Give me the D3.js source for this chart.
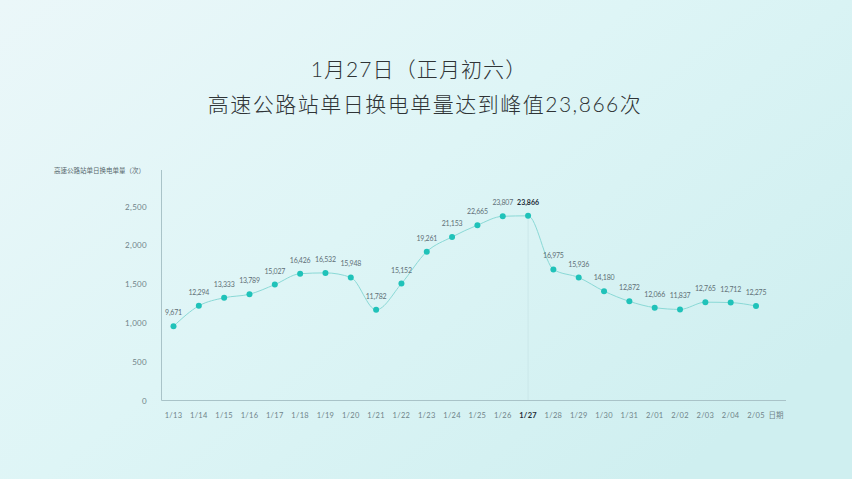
<!DOCTYPE html>
<html lang="zh">
  <head>
    <meta charset="utf-8">
    <script src="https://d3js.org/d3.v7.min.js" charset="utf-8"></script>
    <style type="text/css">
      html, body {
        margin: 0;
        padding: 0;
      }
      body {
        width: 852px;
        height: 479px;
        overflow: hidden;
        font-family: "Lato", "Noto Sans CJK SC", "Noto Sans", sans-serif;
      }
    </style>
  </head>
  <body>
    <script>
      var width = 852;
      var height = 479;

      // data
      var dates = ["1/13","1/14","1/15","1/16","1/17","1/18","1/19","1/20","1/21","1/22","1/23","1/24",
                   "1/25","1/26","1/27","1/28","1/29","1/30","1/31","2/01","2/02","2/03","2/04","2/05"];
      var swaps = [9671,12294,13333,13789,15027,16426,16532,15948,11782,15152,19261,21153,
                   22665,23807,23866,16975,15936,14180,12872,12066,11837,12765,12712,12275];
      var yTicks = [0, 5000, 10000, 15000, 20000, 25000];
      var yTickLabels = ["0", "500", "1,000", "1,500", "2,000", "2,500"];
      var peakDate = "1/27";

      var svg = d3.select("body")
        .append("svg")
        .attr("width", width)
        .attr("height", height);

      // background gradient
      var defs = svg.append("defs");
      var grad = defs.append("linearGradient")
        .attr("id", "bg")
        .attr("x1", "0").attr("y1", "0")
        .attr("x2", "1").attr("y2", "0.7");
      grad.append("stop").attr("offset", "0%").attr("stop-color", "#ebf7f9");
      grad.append("stop").attr("offset", "50%").attr("stop-color", "#def5f6");
      grad.append("stop").attr("offset", "100%").attr("stop-color", "#cfeff0");

      svg.append("rect")
        .attr("width", width)
        .attr("height", height)
        .attr("fill", "url(#bg)");

      // titles
      svg.append("text")
        .attr("x", 419)
        .attr("y", 77)
        .attr("text-anchor", "middle")
        .attr("font-size", 21)
        .attr("font-weight", 300)
        .attr("letter-spacing", 1.1)
        .attr("fill", "#2f3436")
        .text("1月27日（正月初六）");

      svg.append("text")
        .attr("x", 425)
        .attr("y", 112)
        .attr("text-anchor", "middle")
        .attr("font-size", 21)
        .attr("font-weight", 300)
        .attr("letter-spacing", 1.5)
        .attr("fill", "#2f3436")
        .text("高速公路站单日换电单量达到峰值23,866次");

      // scales
      var x = d3.scalePoint()
        .domain(dates)
        .range([173.5, 756]);

      var y = d3.scaleLinear()
        .domain([0, 25000])
        .range([401.5, 207]);

      var g = svg.append("g");

      // axis lines
      g.append("line")
        .attr("x1", 161.5).attr("x2", 161.5)
        .attr("y1", 170).attr("y2", 400.5)
        .attr("stroke", "#a9c3c8")
        .attr("stroke-width", 1);

      g.append("line")
        .attr("x1", 161.5).attr("x2", 786)
        .attr("y1", 400.5).attr("y2", 400.5)
        .attr("stroke", "#a9c3c8")
        .attr("stroke-width", 1);

      // y tick labels
      g.selectAll(".ytick")
        .data(yTicks)
        .enter()
        .append("text")
        .attr("class", "ytick")
        .attr("x", 147)
        .attr("y", function(d) { return y(d) + 2.5; })
        .attr("text-anchor", "end")
        .attr("font-size", 8)
        .attr("letter-spacing", 0.3)
        .attr("fill", "#6f8389")
        .text(function(d, i) { return yTickLabels[i]; });

      // y axis title
      g.append("text")
        .attr("x", 54)
        .attr("y", 173)
        .attr("font-size", 6.5)
        .attr("fill", "#56666c")
        .text("高速公路站单日换电单量（次）");

      // x tick labels
      g.selectAll(".xtick")
        .data(dates)
        .enter()
        .append("text")
        .attr("class", "xtick")
        .attr("x", function(d) { return x(d); })
        .attr("y", 418)
        .attr("text-anchor", "middle")
        .attr("font-size", 7.5)
        .attr("letter-spacing", 0.3)
        .attr("font-weight", function(d) { return d === peakDate ? "bold" : "normal"; })
        .attr("fill", function(d) { return d === peakDate ? "#1d2b36" : "#6f8389"; })
        .text(function(d) { return d; });

      g.append("text")
        .attr("x", 776)
        .attr("y", 418)
        .attr("text-anchor", "middle")
        .attr("font-size", 7.5)
        .attr("fill", "#6f8389")
        .text("日期");

      // peak guide line
      var peakIdx = dates.indexOf(peakDate);
      g.append("line")
        .attr("x1", x(peakDate)).attr("x2", x(peakDate))
        .attr("y1", y(swaps[peakIdx]))
        .attr("y2", 400)
        .attr("stroke", "#c6e3e6")
        .attr("stroke-width", 0.8);

      // line
      var line = d3.line()
        .x(function(d, i) { return x(dates[i]); })
        .y(function(d) { return y(d); })
        .curve(d3.curveMonotoneX);

      g.append("path")
        .datum(swaps)
        .attr("fill", "none")
        .attr("stroke", "#8ad9d6")
        .attr("stroke-width", 1)
        .attr("d", line);

      // points
      g.selectAll(".pt")
        .data(swaps)
        .enter()
        .append("circle")
        .attr("class", "pt")
        .attr("cx", function(d, i) { return x(dates[i]); })
        .attr("cy", function(d) { return y(d); })
        .attr("r", 3)
        .attr("fill", "#20c2b9");

      // value labels
      g.selectAll(".val")
        .data(swaps)
        .enter()
        .append("text")
        .attr("class", "val")
        .attr("x", function(d, i) { return x(dates[i]); })
        .attr("y", function(d) { return y(d) - 11; })
        .attr("text-anchor", "middle")
        .attr("font-size", 7)
        .attr("letter-spacing", function(d, i) { return dates[i] === peakDate ? 0 : -0.2; })
        .attr("font-weight", function(d, i) { return dates[i] === peakDate ? "bold" : "normal"; })
        .attr("fill", function(d, i) { return dates[i] === peakDate ? "#1d2b36" : "#5f7077"; })
        .text(function(d) { return d3.format(",")(d); });
    </script>
  </body>
</html>
